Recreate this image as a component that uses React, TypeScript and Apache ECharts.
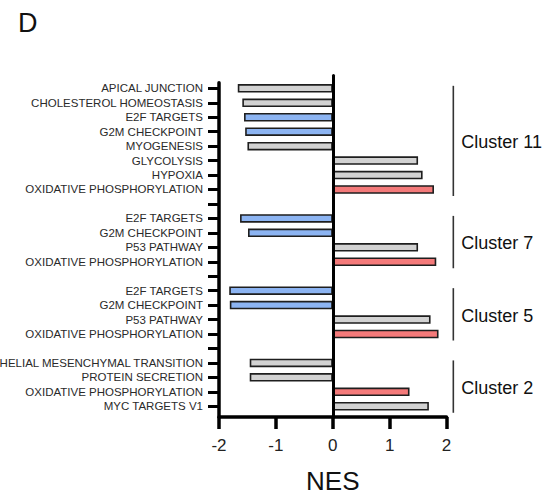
import React, { useEffect, useRef } from "react";
import * as echarts from "echarts";

const categories = [
  "APICAL JUNCTION", "CHOLESTEROL HOMEOSTASIS", "E2F TARGETS", "G2M CHECKPOINT", "MYOGENESIS",
  "GLYCOLYSIS", "HYPOXIA", "OXIDATIVE PHOSPHORYLATION", "",
  "E2F TARGETS", "G2M CHECKPOINT", "P53 PATHWAY", "OXIDATIVE PHOSPHORYLATION", "",
  "E2F TARGETS", "G2M CHECKPOINT", "P53 PATHWAY", "OXIDATIVE PHOSPHORYLATION", "",
  "EPITHELIAL MESENCHYMAL TRANSITION", "PROTEIN SECRETION", "OXIDATIVE PHOSPHORYLATION", "MYC TARGETS V1",
];

const nesValues = [
  -1.67, -1.59, -1.56, -1.54, -1.5, 1.5, 1.58, 1.78, null,
  -1.63, -1.49, 1.5, 1.82, null,
  -1.82, -1.81, 1.72, 1.86, null,
  -1.46, -1.46, 1.35, 1.69,
];

const barGroups = [
  "other", "other", "cell", "cell", "other", "other", "other", "oxphos", "",
  "cell", "cell", "other", "oxphos", "",
  "cell", "cell", "other", "oxphos", "",
  "other", "other", "oxphos", "other",
];

const clusters = [
  { name: "Cluster 11", start: 0, end: 7 },
  { name: "Cluster 7", start: 9, end: 12 },
  { name: "Cluster 5", start: 14, end: 17 },
  { name: "Cluster 2", start: 19, end: 22 },
];

const xTicks = { min: -2, max: 2, interval: 1 };
const bracketX = 2.12;

const groupColors: Record<string, string> = {
  other: "#d2d2d2",
  cell: "#8cb4f2",
  oxphos: "#f47a7a",
};

const FONT = "'Liberation Sans', Arial, sans-serif";

export default function App() {
  const ref = useRef<HTMLDivElement>(null);
  useEffect(() => {
    document.body.style.margin = "0";
    const chart = echarts.init(ref.current!, null, { renderer: "svg" });
    const left = 219;
    const right = 546 - 446.5;
    const gridBase = { left, right, containLabel: false, outerBoundsMode: "none" };
    chart.setOption({
      animation: false,
      backgroundColor: "#ffffff",
      title: {
        text: "D",
        left: 13,
        top: 4,
        textStyle: { fontSize: 27, fontWeight: "normal", color: "#111", fontFamily: FONT },
      },
      grid: [
        { ...gridBase, top: 81.1, bottom: 497 - 413.5 },
        { ...gridBase, top: 82.7, bottom: 497 - 417 },
        { ...gridBase, top: 75.5, bottom: 497 - 417 },
      ],
      xAxis: [
        {
          gridIndex: 0,
          type: "value",
          min: xTicks.min,
          max: xTicks.max,
          interval: xTicks.interval,
          show: false,
          axisLine: { onZero: false },
        },
        {
          gridIndex: 1,
          type: "value",
          min: xTicks.min,
          max: xTicks.max,
          interval: xTicks.interval,
          axisLine: { show: true, onZero: false, lineStyle: { color: "#000", width: 3.5 } },
          axisTick: { show: true, length: 12, lineStyle: { color: "#000", width: 3.5 } },
          axisLabel: { fontSize: 17, color: "#222", margin: 20, fontFamily: FONT },
          splitLine: { show: false },
          name: "NES",
          nameLocation: "middle",
          nameGap: 51,
          nameTextStyle: { fontSize: 26, color: "#111", fontFamily: FONT },
        },
        {
          gridIndex: 2,
          type: "value",
          min: xTicks.min,
          max: xTicks.max,
          interval: xTicks.interval,
          show: false,
          axisLine: { onZero: false },
        },
      ],
      yAxis: [
        {
          gridIndex: 0,
          type: "category",
          inverse: true,
          data: categories.map((_, i) => String(i)),
          axisLine: { show: false, onZero: false },
          axisTick: { show: true, alignWithLabel: true, interval: 0, length: 11, lineStyle: { color: "#000", width: 3 } },
          axisLabel: {
            interval: 0,
            margin: 16,
            fontSize: 11.5,
            color: "#2a2a2a",
            fontFamily: FONT,
            formatter: (_v: string, i: number) => categories[i],
          },
          splitLine: { show: false },
        },
        {
          gridIndex: 1,
          type: "value",
          min: 0,
          max: 1,
          axisLine: { show: true, onZero: false, lineStyle: { color: "#000", width: 3.5 } },
          axisTick: { show: false },
          axisLabel: { show: false },
          splitLine: { show: false },
        },
        {
          gridIndex: 2,
          type: "value",
          min: 0,
          max: 1,
          z: 5,
          axisLine: { show: true, onZero: true, lineStyle: { color: "#000", width: 3 } },
          axisTick: { show: false },
          axisLabel: { show: false },
          splitLine: { show: false },
        },
      ],
      series: [
        {
          type: "bar",
          xAxisIndex: 0,
          yAxisIndex: 0,
          barWidth: 8.5,
          data: nesValues.map((v, i) => ({
            value: v,
            itemStyle: {
              color: groupColors[barGroups[i]] || "#ccc",
              borderColor: "#1e1e1e",
              borderWidth: 1.6,
            },
          })),
        },
        {
          type: "custom",
          xAxisIndex: 0,
          yAxisIndex: 0,
          encode: { x: 0, y: 1 },
          clip: false,
          silent: true,
          data: clusters.map((c) => [bracketX, c.start, c.end]),
          renderItem: (params: any, api: any) => {
            const c = clusters[params.dataIndex];
            const top = api.coord([api.value(0), api.value(1)]);
            const bot = api.coord([api.value(0), api.value(2)]);
            const x = top[0];
            const y1 = top[1] - 2.5;
            const y2 = bot[1] + 6.5;
            return {
              type: "group",
              children: [
                {
                  type: "line",
                  shape: { x1: x, y1, x2: x, y2 },
                  style: { stroke: "#333", lineWidth: 1.6 },
                },
                {
                  type: "text",
                  style: {
                    text: c.name,
                    x: x + 8,
                    y: (y1 + y2) / 2 + 1.3,
                    fontSize: 18,
                    fill: "#111",
                    fontFamily: FONT,
                    verticalAlign: "middle",
                    align: "left",
                  },
                },
              ],
            };
          },
        },
      ],
    });
    return () => chart.dispose();
  }, []);
  return <div ref={ref} style={{ width: 546, height: 497 }} />;
}
